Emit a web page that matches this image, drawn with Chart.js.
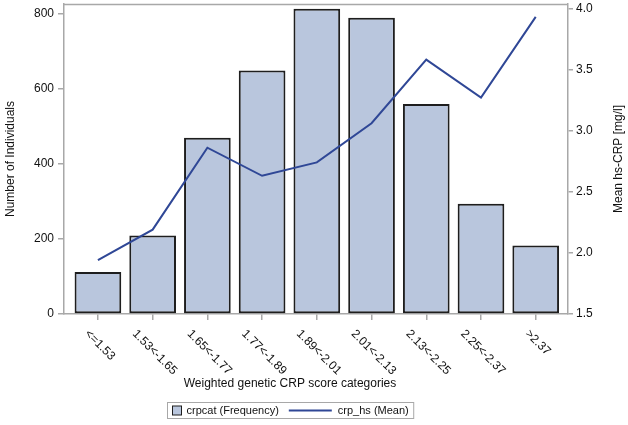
<!DOCTYPE html>
<html>
<head>
<meta charset="utf-8">
<script src="https://cdn.jsdelivr.net/npm/chart.js@4"></script>
<style>
  body { margin: 0; background: #fff; }
  #wrap { width: 628px; height: 425px; }
</style>
</head>
<body>
<div id="wrap"><canvas id="chart" width="628" height="425"></canvas></div>
<script>
// categories and values
const categories = ['<=1.53', '1.53<-1.65', '1.65<-1.77', '1.77<-1.89', '1.89<-2.01', '2.01<-2.13', '2.13<-2.25', '2.25<-2.37', '>2.37'];
const frequency = [112, 209, 469, 648, 812, 788, 559, 293, 182];
const meanCrp = [1.94, 2.19, 2.86, 2.63, 2.74, 3.06, 3.58, 3.27, 3.93];

const leftTicks = [0, 200, 400, 600, 800];
const rightTicks = [1.5, 2.0, 2.5, 3.0, 3.5, 4.0];

const FONT = 'Liberation Sans, Arial, sans-serif';
const BAR_FILL = '#b9c6dd';
const BAR_EDGE = '#1e1e1e';
const LINE_COLOR = '#2f4796';
const FRAME = '#a8a8a8';

// frame round the plot, rotated x labels, titles, legend
const extras = {
    id: 'extras',
    afterDraw(chart) {
        const ctx = chart.ctx;
        const area = chart.chartArea;
        const x = chart.scales.x;

        ctx.save();
        ctx.strokeStyle = FRAME;
        ctx.lineWidth = 1.5;
        ctx.beginPath();
        ctx.moveTo(area.left, area.top + 0.5);
        ctx.lineTo(area.right, area.top + 0.5);
        ctx.stroke();

        // x labels going down to the right, centred under their tick
        ctx.fillStyle = '#111';
        ctx.font = '12px ' + FONT;
        ctx.textAlign = 'left';
        ctx.textBaseline = 'middle';
        categories.forEach((label, i) => {
            const px = x.getPixelForValue(i);
            const d = ctx.measureText(label).width * Math.SQRT1_2;
            ctx.save();
            ctx.translate(px + 2 - d / 2, 332);
            ctx.rotate(Math.PI / 4);
            ctx.fillText(label, 0, 0);
            ctx.restore();
        });

        // x title
        ctx.textAlign = 'center';
        ctx.fillText('Weighted genetic CRP score categories', 290, 384);

        // right axis title, reading upwards
        ctx.save();
        ctx.translate(619, (area.top + area.bottom) / 2);
        ctx.rotate(-Math.PI / 2);
        ctx.fillText('Mean hs-CRP [mg/l]', 0, 0);
        ctx.restore();

        // legend
        ctx.font = '11px ' + FONT;
        const t1 = 'crpcat (Frequency)';
        const t2 = 'crp_hs (Mean)';
        const w1 = ctx.measureText(t1).width;
        const w2 = ctx.measureText(t2).width;
        const pad = 5, box = 9, lineLen = 43;
        const total = pad + box + 5 + w1 + 10 + lineLen + 6 + w2 + pad;
        const bx = Math.round(290 - total / 2) + 0.5;
        const by = 402.5, bh = 16;
        ctx.strokeStyle = FRAME;
        ctx.lineWidth = 1;
        ctx.strokeRect(bx, by, total, bh);

        let cx = bx + pad;
        const cy = by + bh / 2;
        ctx.fillStyle = BAR_FILL;
        ctx.fillRect(cx, cy - box / 2, box, box);
        ctx.strokeStyle = BAR_EDGE;
        ctx.strokeRect(cx, cy - box / 2, box, box);
        cx += box + 5;
        ctx.fillStyle = '#111';
        ctx.textAlign = 'left';
        ctx.fillText(t1, cx, cy);
        cx += w1 + 10;
        ctx.strokeStyle = LINE_COLOR;
        ctx.lineWidth = 2;
        ctx.beginPath();
        ctx.moveTo(cx, cy);
        ctx.lineTo(cx + lineLen, cy);
        ctx.stroke();
        cx += lineLen + 6;
        ctx.fillText(t2, cx, cy);
        ctx.restore();
    }
};

new Chart(document.getElementById('chart'), {
    data: {
        datasets: [
            {
                type: 'line',
                label: 'crp_hs (Mean)',
                data: meanCrp.map((v, i) => ({ x: i, y: v })),
                yAxisID: 'y1',
                borderColor: LINE_COLOR,
                borderWidth: 2,
                pointRadius: 0,
                tension: 0,
                order: 0
            },
            {
                type: 'bar',
                label: 'crpcat (Frequency)',
                data: frequency.map((v, i) => ({ x: i, y: v })),
                yAxisID: 'y',
                backgroundColor: BAR_FILL,
                borderColor: BAR_EDGE,
                borderWidth: 2,
                borderSkipped: false,
                categoryPercentage: 1,
                barPercentage: 0.853,
                order: 1
            }
        ]
    },
    options: {
        responsive: false,
        animation: false,
        layout: { padding: { top: 4, bottom: 29, left: 0, right: 0 } },
        plugins: {
            legend: { display: false },
            tooltip: { enabled: false }
        },
        scales: {
            x: {
                type: 'linear',
                min: -0.62,
                max: 8.59,
                offset: false,
                afterBuildTicks: s => { s.ticks = categories.map((c, i) => ({ value: i })); },
                afterFit: s => { s.height = 82; s.paddingLeft = 0; s.paddingRight = 0; },
                ticks: { display: false },
                grid: { offset: false, drawOnChartArea: false, tickLength: 6, color: FRAME, lineWidth: 1.5 },
                border: { color: FRAME, width: 1.5 }
            },
            y: {
                position: 'left',
                min: 0,
                max: 824.7,
                afterBuildTicks: s => { s.ticks = leftTicks.map(v => ({ value: v })); },
                afterFit: s => { s.width = 64; s.paddingTop = 0; s.paddingBottom = 0; },
                ticks: { color: '#111', font: { family: FONT, size: 12 }, padding: 4 },
                grid: { drawOnChartArea: false, tickLength: 6, color: FRAME, lineWidth: 1.5 },
                border: { color: FRAME, width: 1.5 },
                title: {
                    display: true,
                    text: 'Number of Individuals',
                    color: '#111',
                    font: { family: FONT, size: 12 },
                    padding: { top: 3, bottom: 0 }
                }
            },
            y1: {
                position: 'right',
                min: 1.5,
                max: 4.035,
                afterBuildTicks: s => { s.ticks = rightTicks.map(v => ({ value: v })); },
                afterFit: s => { s.width = 60; s.paddingTop = 0; s.paddingBottom = 0; },
                ticks: { color: '#111', font: { family: FONT, size: 12 }, padding: 3, callback: v => v.toFixed(1) },
                grid: { drawOnChartArea: false, tickLength: 5, color: FRAME, lineWidth: 1.5 },
                border: { color: FRAME, width: 1.5 }
            }
        }
    },
    plugins: [extras]
});
</script>
</body>
</html>
